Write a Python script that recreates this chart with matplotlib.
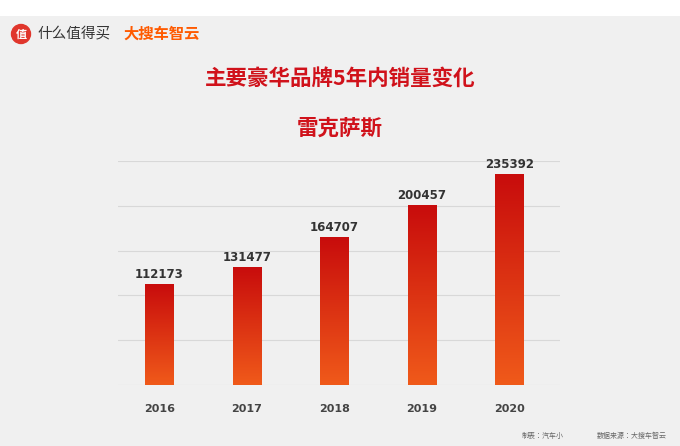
import numpy as np
import matplotlib.pyplot as plt
from matplotlib import font_manager
from matplotlib.colors import LinearSegmentedColormap
from matplotlib.patches import Rectangle, Ellipse

cjk = sorted(set(f.name for f in font_manager.fontManager.ttflist if "CJK" in f.name))
plt.rcParams["font.family"] = cjk[:1] + ["DejaVu Sans"]

years = ["2016", "2017", "2018", "2019", "2020"]
sales = [112173, 131477, 164707, 200457, 235392]

fig = plt.figure(figsize=(6.8, 4.46), dpi=100)
fig.patch.set_facecolor("white")
fig.add_artist(Rectangle((0, 0), 1, 1 - 16/446, transform=fig.transFigure,
                         facecolor="#f0f0f0", edgecolor="none", zorder=-10))

ax = fig.add_axes([118/680, 1 - 385/446, 442/680, 224/446])
ax.set_facecolor("none")
ax.set_yticks(np.arange(0, 250001, 50000))
ax.yaxis.grid(True, color="#d8d8d8", lw=0.8)
ax.set_axisbelow(True)
ax.tick_params(left=False, bottom=False, labelleft=False)
for s in ax.spines.values():
    s.set_visible(False)
ax.set_xticks(range(len(years)))
ax.set_xticklabels(years, fontsize=8, fontweight="bold", color="#444444",
                   fontfamily="DejaVu Sans")
ax.tick_params(axis="x", pad=10)

cmap = LinearSegmentedColormap.from_list("g", ["#f05a1a", "#c80c0c"])
grad = np.linspace(0, 1, 256).reshape(-1, 1)
w = 0.32
for i, v in enumerate(sales):
    rect = Rectangle((i - w/2, 0), w, v, facecolor="none", edgecolor="none")
    ax.add_patch(rect)
    im = ax.imshow(grad, cmap=cmap, origin="lower", aspect="auto",
                   extent=(i - w/2, i + w/2, 0, v), zorder=2)
    im.set_clip_path(rect)
    ax.text(i, v + 4000, str(v), ha="center", va="bottom", fontsize=8.5,
            fontweight="bold", color="#333333", fontfamily="DejaVu Sans")
ax.set_xlim(-0.47, 4.58)
ax.set_ylim(0, 250000)

fig.text(0.5, 1 - 78/446, "主要豪华品牌5年内销量变化", ha="center", va="center",
         fontsize=15.5, fontweight="bold", color="#d0121b")
fig.text(0.5, 1 - 128/446, "雷克萨斯", ha="center", va="center",
         fontsize=15.5, fontweight="bold", color="#d0121b")

# header logos
fig.add_artist(Ellipse((21/680, 1 - 34/446), 19/680, 19/446,
                       transform=fig.transFigure, color="#e0362c"))
fig.text(21/680, 1 - 34/446, "值", ha="center", va="center", fontsize=8,
         color="white", fontweight="bold")
fig.text(37/680, 1 - 34/446, "什么值得买", ha="left", va="center", fontsize=10.5,
         color="#333333")
fig.text(123/680, 1 - 34/446, "大搜车智云", ha="left", va="center", fontsize=11,
         color="#ff5a00", fontweight="bold", style="italic")

fig.text(522/680, 1 - 436/446, "制表：汽车小", ha="left", va="center", fontsize=5,
         color="#666666")
fig.text(597/680, 1 - 436/446, "数据来源：大搜车智云", ha="left", va="center",
         fontsize=5, color="#666666")

fig.savefig("out.png", dpi=100)
